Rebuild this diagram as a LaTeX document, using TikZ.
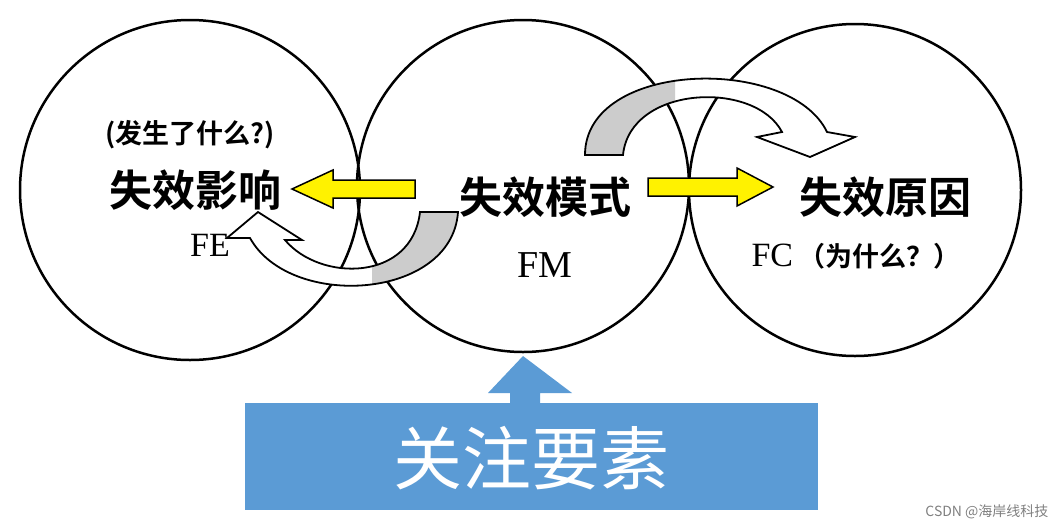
\documentclass[tikz,border=0pt]{standalone}
\usepackage{fontspec}
\newfontfamily\cjk{Noto Sans CJK SC}
\newfontfamily\cjkb{Noto Sans CJK SC Bold}
\setmainfont{Liberation Serif}
\definecolor{bblue}{RGB}{91,155,213}
\begin{document}
\begin{tikzpicture}[x=1pt,y=-1pt,
  circ/.style={draw,line width=2.5pt,circle,minimum size=#1,inner sep=0},
  big/.style={font=\cjkb\fontsize{43}{46}\selectfont},
  yarr/.style={draw,line width=1.5pt,fill=yellow,line join=miter}]
\useasboundingbox (0,0) rectangle (1060,531);
\node[circ=340] (L) at (190,190) {};
\node[circ=332] (M) at (523,186) {};
\node[circ=332] (R) at (855,190) {};
% up arrow and box
\node[fill=bblue,minimum width=573,minimum height=107,inner sep=0] (box) at (531.5,456.5) {};
\fill[bblue] (510,404) -- (510,393) -- (488,393) -- (523,356) -- (572,393) -- (540,393) -- (540,404) -- cycle;
\node[text=white,font=\cjk\fontsize{69}{72}\selectfont] (gz) at (531,458) {关注要素};
% yellow arrows
\draw[yarr] (415,180) -- (333,180) -- (333,170) -- (292,189) -- (333,208) -- (333,198) -- (415,198) -- cycle;
\draw[yarr] (648,178) -- (737,178) -- (737,168) -- (773,187) -- (737,206) -- (737,196) -- (648,196) -- cycle;
% left curved arrow
\def\lpath{(458,212) .. controls (452,300) and (290,310) .. (250,238) -- (227,238) -- (258,212) -- (302,240) -- (285,240) .. controls (320,282) and (412,282) .. (420,212) -- cycle}
\fill[white] \lpath;
\begin{scope}\clip (372,150) rectangle (470,320); \fill[gray!40] \lpath; \end{scope}
\draw[line width=1.8pt,line join=miter] \lpath;
% right curved arrow
\def\rpath{(585,155) .. controls (585,60) and (790,55) .. (827,132) -- (855,137) -- (810,157) -- (757,137) -- (782,132) .. controls (755,80) and (630,85) .. (623,155) -- cycle}
\fill[white] \rpath;
\begin{scope}\clip (570,60) rectangle (675,170); \fill[gray!40] \rpath; \end{scope}
\draw[line width=1.8pt,line join=miter] \rpath;
% texts
\node[font=\cjkb\fontsize{27}{30}\selectfont] (q1) at (190,135) {(发生了什么?)};
\node[big] (fe) at (195,190) {失效影响};
\node[font=\fontsize{34}{36}\selectfont] (FE) at (210,245) {FE};
\node[big] (fm) at (545,197) {失效模式};
\node[font=\fontsize{38}{40}\selectfont] (FM) at (545,265) {FM};
\node[big] (fc) at (885,197) {失效原因};
\node[font=\fontsize{34}{36}\selectfont,anchor=west] (FC) at (748,256) {FC\,{\cjkb\fontsize{27}{30}\selectfont（为什么？）}};
\node[font=\cjk\fontsize{14}{15}\selectfont,text=gray,anchor=east] (wm) at (1052,512) {CSDN @海岸线科技};
\end{tikzpicture}
\end{document}
